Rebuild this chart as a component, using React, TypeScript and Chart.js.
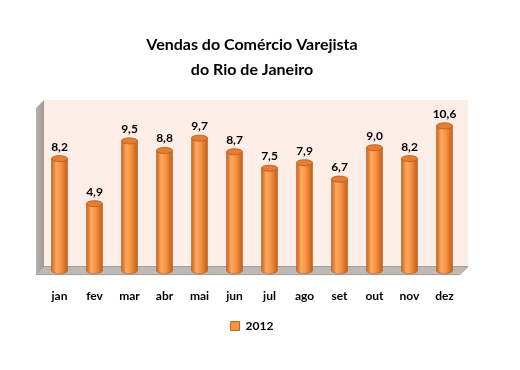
import React, { useEffect, useRef } from "react";
import { Chart, registerables } from "chart.js";

Chart.register(...registerables);

const titleLines = ["Vendas do Comércio Varejista", "do Rio de Janeiro"];
const months = ["jan", "fev", "mar", "abr", "mai", "jun", "jul", "ago", "set", "out", "nov", "dez"];
const seriesLabel = "2012";
const sales2012 = [8.2, 4.9, 9.5, 8.8, 9.7, 8.7, 7.5, 7.9, 6.7, 9.0, 8.2, 10.6];

const FONT = "Lato, 'Open Sans', sans-serif";

const wallsPlugin = {
  id: "walls3d",
  beforeDatasetsDraw(chart: any) {
    const { ctx, chartArea } = chart;
    const { left, right, top, bottom } = chartArea;
    const d = 4;
    ctx.save();
    // back wall
    ctx.fillStyle = "#FDEFE8";
    ctx.fillRect(left + 2, top, right + 6 - (left + 2), bottom - d - top);
    // left side wall
    const g = ctx.createLinearGradient(left - 6, 0, left + 2, 0);
    g.addColorStop(0, "#B5B1AF");
    g.addColorStop(1, "#9E9A98");
    ctx.fillStyle = g;
    ctx.beginPath();
    ctx.moveTo(left - 6, top + 8);
    ctx.lineTo(left + 2, top);
    ctx.lineTo(left + 2, bottom - d);
    ctx.lineTo(left - 6, bottom + d);
    ctx.closePath();
    ctx.fill();
    // floor
    ctx.fillStyle = "#BDB9B7";
    ctx.strokeStyle = "#A09C9A";
    ctx.lineWidth = 1;
    ctx.beginPath();
    ctx.moveTo(left + 2, bottom - d);
    ctx.lineTo(right + 6, bottom - d);
    ctx.lineTo(right - 2, bottom + d);
    ctx.lineTo(left - 6, bottom + d);
    ctx.closePath();
    ctx.fill();
    ctx.stroke();
    ctx.restore();
  },
  beforeDatasetDraw() {
    return false;
  },
  afterDatasetsDraw(chart: any) {
    const { ctx } = chart;
    const meta = chart.getDatasetMeta(0);
    const data = chart.data.datasets[0].data as number[];
    ctx.save();
    meta.data.forEach((el: any, i: number) => {
      const { x, y, base, width } = el.getProps(["x", "y", "base", "width"], true);
      const hw = width / 2;
      const ry = 3;
      const grad = ctx.createLinearGradient(x - hw, 0, x + hw, 0);
      grad.addColorStop(0, "#C9651D");
      grad.addColorStop(0.3, "#FFA862");
      grad.addColorStop(0.55, "#F99646");
      grad.addColorStop(1, "#C35F17");
      ctx.fillStyle = grad;
      ctx.beginPath();
      ctx.moveTo(x - hw, y);
      ctx.lineTo(x - hw, base);
      ctx.ellipse(x, base, hw, ry, 0, Math.PI, 0, true);
      ctx.lineTo(x + hw, y);
      ctx.closePath();
      ctx.fill();
      ctx.strokeStyle = "rgba(170,80,20,0.6)";
      ctx.lineWidth = 0.8;
      ctx.stroke();
      // top cap
      ctx.beginPath();
      ctx.ellipse(x, y, hw, ry, 0, 0, Math.PI * 2);
      ctx.fillStyle = "#E47E33";
      ctx.fill();
      ctx.strokeStyle = "#C3621C";
      ctx.lineWidth = 1;
      ctx.stroke();
      // label
      ctx.fillStyle = "#000";
      ctx.font = `bold 12px ${FONT}`;
      ctx.textAlign = "center";
      ctx.textBaseline = "alphabetic";
      ctx.fillText(data[i].toFixed(1).replace(".", ","), x, y - 8);
    });
    ctx.restore();
  },
};

export default function App() {
  const ref = useRef<HTMLCanvasElement>(null);
  useEffect(() => {
    if (!ref.current) return;
    const chart = new Chart(ref.current, {
      type: "bar",
      data: {
        labels: months,
        datasets: [
          {
            label: seriesLabel,
            data: sales2012,
            backgroundColor: "#F79646",
            borderColor: "#C0621E",
            borderWidth: 1,
            barThickness: 16,
          },
        ],
      },
      options: {
        responsive: false,
        animation: false,
        events: [],
        layout: { padding: { left: 42, right: 58, top: 0, bottom: 28 } },
        scales: {
          x: {
            offset: true,
            grid: { display: false },
            border: { display: false },
            ticks: { color: "#000", font: { family: FONT, size: 12, weight: "bold" }, padding: 10 },
          },
          y: { display: false, min: 0, max: 12.5 },
        },
        plugins: {
          title: {
            display: true,
            text: titleLines,
            color: "#000",
            font: { family: FONT, size: 16, weight: "bold", lineHeight: 1.56 },
            padding: { top: 32, bottom: 18 },
          },
          legend: {
            display: true,
            position: "bottom",
            labels: {
              color: "#000",
              boxWidth: 9,
              boxHeight: 9,
              padding: 7,
              font: { family: FONT, size: 12, weight: "bold" },
            },
          },
          tooltip: { enabled: false },
        },
      },
      plugins: [wallsPlugin],
    });
    return () => chart.destroy();
  }, []);
  return (
    <div style={{ position: "fixed", left: 0, top: 0, width: 520, height: 370, background: "#fff" }}>
      <canvas ref={ref} width={520} height={370} />
    </div>
  );
}
